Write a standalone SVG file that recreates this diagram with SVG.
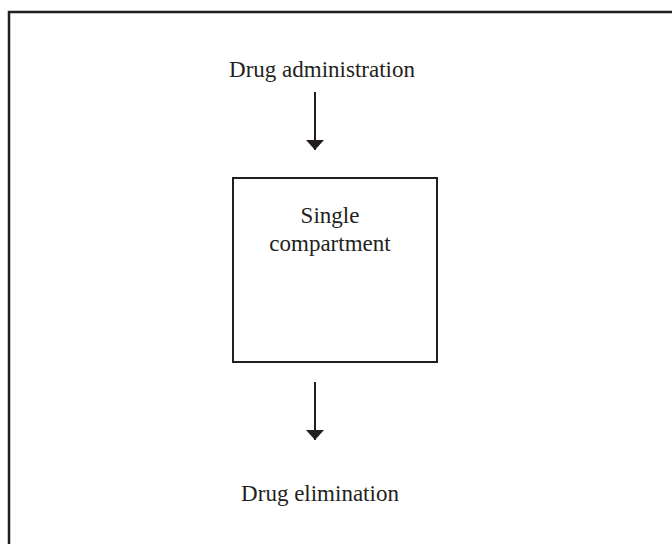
<svg xmlns="http://www.w3.org/2000/svg" width="672" height="544" viewBox="0 0 672 544">
  <style>
    .t { font-family: "Liberation Serif", "Times New Roman", serif; font-size: 23px; fill: #231f20; text-anchor: middle; }
    .ln { stroke: #231f20; stroke-width: 2; fill: none; }
  </style>
  <defs>
    <marker id="ah" viewBox="0 0 10 18" refX="10" refY="9" markerWidth="10" markerHeight="18" markerUnits="userSpaceOnUse" orient="auto">
      <path d="M0,0 L10,9 L0,18 Z" fill="#231f20"/>
    </marker>
  </defs>
  <rect width="672" height="544" fill="#ffffff"/>
  <g id="frame">
    <rect x="9" y="12" width="700" height="600" class="ln" style="stroke-width:2.5"/>
  </g>
  <g id="administration">
    <text class="t" x="322" y="77">Drug administration</text>
  </g>
  <g id="compartment">
    <rect x="233" y="178" width="204" height="184" class="ln"/>
    <text class="t" x="330" y="223">Single</text>
    <text class="t" x="330" y="251">compartment</text>
  </g>
  <g id="elimination">
    <text class="t" x="320" y="501">Drug elimination</text>
  </g>
  <g id="connectors">
    <line x1="315" y1="92" x2="315" y2="150" class="ln" marker-end="url(#ah)"/>
    <line x1="315" y1="382" x2="315" y2="440" class="ln" marker-end="url(#ah)"/>
  </g>
</svg>
